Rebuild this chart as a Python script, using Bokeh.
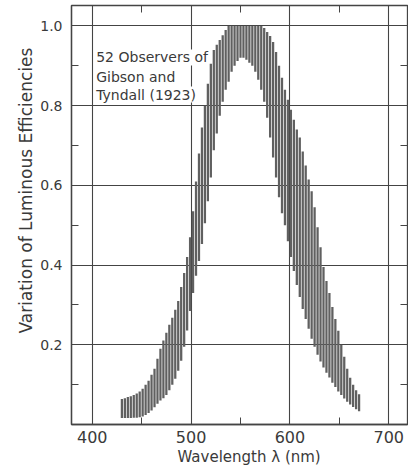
from bokeh.plotting import figure
from bokeh.models import FixedTicker, LinearAxis, PrintfTickFormatter, ColumnDataSource, Range1d, Title
from bokeh.core.properties import value
from bokeh.embed import file_html
from bokeh.resources import INLINE

# wavelengths (nm), 3 nm apart
wavelength = list(range(430, 671, 3))

upper = [0.064, 0.066, 0.069, 0.071, 0.074, 0.078, 0.083, 0.090, 0.100, 0.110,
         0.125, 0.140, 0.165, 0.190, 0.211, 0.230, 0.250, 0.268, 0.288, 0.310,
         0.345, 0.380, 0.420, 0.470, 0.535, 0.610, 0.680, 0.745, 0.800, 0.855,
         0.905, 0.940, 0.953, 0.965, 0.977, 0.990, 1.000, 1.000, 1.000, 1.000,
         1.000, 1.000, 1.000, 1.000, 1.000, 1.000, 1.000, 1.000, 0.995, 0.985,
         0.975, 0.960, 0.935, 0.900, 0.870, 0.840, 0.815, 0.790, 0.765, 0.740,
         0.720, 0.685, 0.650, 0.615, 0.585, 0.545, 0.495, 0.445, 0.395, 0.360,
         0.330, 0.295, 0.265, 0.235, 0.200, 0.170, 0.140, 0.117, 0.100, 0.086,
         0.076]

lower = [0.016, 0.016, 0.016, 0.016, 0.017, 0.017, 0.018, 0.020, 0.024, 0.029,
         0.035, 0.043, 0.052, 0.060, 0.066, 0.074, 0.086, 0.100, 0.115, 0.135,
         0.160, 0.195, 0.236, 0.285, 0.330, 0.373, 0.410, 0.453, 0.505, 0.560,
         0.620, 0.688, 0.730, 0.775, 0.810, 0.840, 0.860, 0.885, 0.900, 0.912,
         0.920, 0.920, 0.915, 0.908, 0.900, 0.885, 0.865, 0.840, 0.810, 0.770,
         0.720, 0.670, 0.620, 0.570, 0.530, 0.500, 0.460, 0.420, 0.385, 0.350,
         0.320, 0.290, 0.265, 0.240, 0.215, 0.195, 0.175, 0.158, 0.143, 0.130,
         0.118, 0.105, 0.094, 0.083, 0.074, 0.065, 0.057, 0.050, 0.044, 0.038,
         0.033]

x_ticks = [400, 500, 600, 700]
x_minor = [450, 550, 650]
y_ticks = [0.2, 0.4, 0.6, 0.8, 1.0]
y_minor = [0.1, 0.3, 0.5, 0.7, 0.9]
note_lines = ["52 Observers of", "Gibson and", "Tyndall (1923)"]
x_title = "Wavelength \u03bb (nm)"
y_title = "Variation of Luminous Efficiencies"

FONT = "DejaVu Sans"
TXT = "#3a3a3a"
LINE = "#444444"

p = figure(frame_width=336, frame_height=419, output_backend="svg",
           toolbar_location=None, x_range=Range1d(379, 719), y_range=Range1d(0, 1.0514),
           min_border_left=71, min_border_right=1, min_border_top=5, min_border_bottom=44)
p.background_fill_color = "white"
p.outline_line_color = LINE
p.outline_line_width = 1.3

src = ColumnDataSource(dict(x=wavelength, top=upper, bottom=lower))
p.vbar(x="x", top="top", bottom="bottom", width=2.3, source=src,
       fill_color="#606060", line_color=None)

xt = FixedTicker(ticks=x_ticks, minor_ticks=x_minor)
yt = FixedTicker(ticks=y_ticks, minor_ticks=y_minor)

for ax in p.xaxis:
    ax.ticker = xt
    ax.major_label_text_font = FONT
    ax.major_label_text_font_size = "16px"
    ax.major_label_text_color = TXT
    ax.major_label_standoff = 6
    ax.major_tick_in = 0
    ax.major_tick_out = 0
    ax.minor_tick_in = 7
    ax.minor_tick_out = 0
    ax.minor_tick_line_color = LINE
    ax.axis_line_color = LINE
    ax.axis_line_width = 1.3

for ax in p.yaxis:
    ax.ticker = yt
    ax.formatter = PrintfTickFormatter(format="%.1f")
    ax.major_label_text_font = FONT
    ax.major_label_text_font_size = "14px"
    ax.major_label_text_color = TXT
    ax.major_label_standoff = 9
    ax.major_tick_in = 0
    ax.major_tick_out = 0
    ax.minor_tick_in = 7
    ax.minor_tick_out = 0
    ax.minor_tick_line_color = LINE
    ax.axis_line_color = LINE
    ax.axis_line_width = 1.3

top_ax = LinearAxis(ticker=FixedTicker(ticks=[], minor_ticks=x_minor),
                    major_tick_in=0, major_tick_out=0, minor_tick_in=7, minor_tick_out=0,
                    minor_tick_line_color=LINE, axis_line_color=None)
right_ax = LinearAxis(ticker=FixedTicker(ticks=[], minor_ticks=y_minor),
                      major_tick_in=0, major_tick_out=0, minor_tick_in=7, minor_tick_out=0,
                      minor_tick_line_color=LINE, axis_line_color=None)
p.add_layout(top_ax, "above")
p.add_layout(right_ax, "right")

p.add_layout(Title(text=x_title, align="left", offset=106, standoff=0,
                   text_font=FONT, text_font_size="15px", text_font_style="normal",
                   text_color=TXT), "below")
p.add_layout(Title(text=y_title, align="left", offset=91, standoff=4,
                   text_font=FONT, text_font_size="17px", text_font_style="normal",
                   text_color=TXT), "left")

p.xgrid.ticker = xt
p.ygrid.ticker = yt
p.xgrid.grid_line_color = LINE
p.ygrid.grid_line_color = LINE
p.xgrid.grid_line_width = 1.1
p.ygrid.grid_line_width = 1.1

note_x = [404, 404, 404]
note_y = [0.921, 0.871, 0.828]
p.text(x=note_x, y=note_y, text=note_lines, text_font=value(FONT), text_font_size="14px",
       text_color=TXT, text_baseline="middle", text_align="left",
       background_fill_color="white")

open("out.html", "w").write(file_html(p, INLINE))
